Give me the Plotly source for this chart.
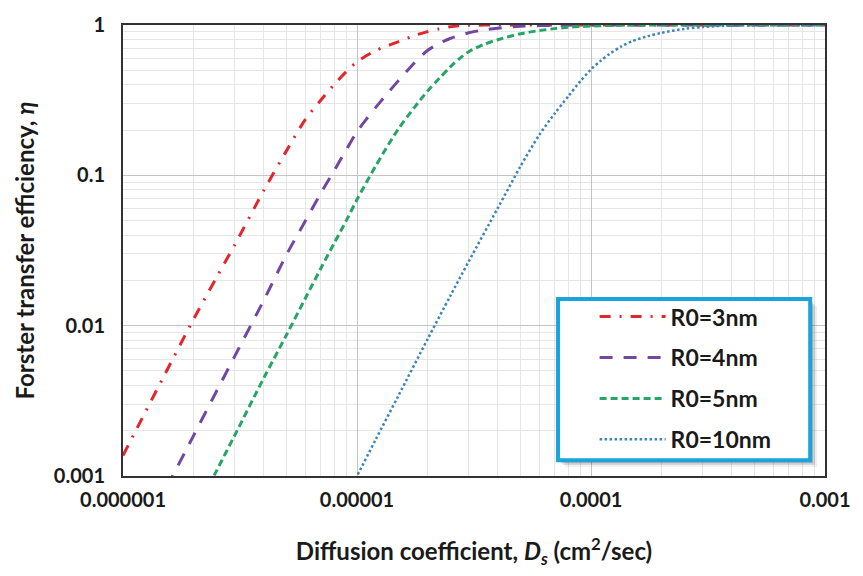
import plotly.graph_objects as go

# Diffusion coefficient D_s (cm^2/sec) and Forster transfer efficiency eta for each R0
d_r3 = [1e-6, 1.25e-6, 1.5e-6, 2e-6, 2.5e-6, 3e-6, 4e-6, 5e-6, 6e-6, 7e-6, 8e-6, 9e-6, 1e-5,
        1.2e-5, 1.5e-5, 1.8e-5, 2e-5, 2.25e-5, 2.5e-5, 2.75e-5, 3e-5, 4e-5, 5e-5, 1e-4, 1e-3]
eta_r3 = [0.00137, 0.00269, 0.00466, 0.0110, 0.0207, 0.0344, 0.0796, 0.146, 0.234, 0.316, 0.403, 0.49, 0.569,
          0.675, 0.773, 0.861, 0.902, 0.944, 0.973, 0.989, 0.995, 1.0, 1.0, 1.0, 1.0]

d_r4 = [1e-6, 1.5e-6, 2e-6, 2.5e-6, 3e-6, 4e-6, 5e-6, 6e-6, 7e-6, 8e-6, 9e-6, 1e-5, 1.1e-5, 1.2e-5,
        1.35e-5, 1.5e-5, 1.75e-5, 2e-5, 2.25e-5, 2.5e-5, 3e-5, 3.5e-5, 4e-5, 5e-5, 6e-5, 8e-5, 1e-4, 1e-3]
eta_r4 = [0.00023, 0.00078, 0.00185, 0.00362, 0.00625, 0.0148, 0.0297, 0.0494, 0.0759, 0.108, 0.148, 0.195,
          0.238, 0.282, 0.351, 0.425, 0.555, 0.676, 0.755, 0.813, 0.887, 0.929, 0.953, 0.98, 0.991, 0.998,
          1.0, 1.0]

d_r5 = [1e-6, 1.5e-6, 2e-6, 2.5e-6, 3e-6, 4e-6, 5e-6, 6e-6, 7e-6, 8e-6, 9e-6, 1e-5, 1.2e-5, 1.5e-5,
        1.75e-5, 2e-5, 2.25e-5, 2.5e-5, 2.75e-5, 3e-5, 3.5e-5, 4e-5, 5e-5, 6e-5, 7e-5, 8e-5, 9e-5, 1e-4,
        1.2e-4, 1.5e-4, 2e-4, 1e-3]
eta_r5 = [6.8e-5, 0.00023, 0.00055, 0.00107, 0.00186, 0.0045, 0.0087, 0.0151, 0.024, 0.0355, 0.050, 0.069,
          0.115, 0.203, 0.28, 0.363, 0.442, 0.525, 0.60, 0.664, 0.745, 0.798, 0.875, 0.918, 0.946, 0.966,
          0.977, 0.984, 0.993, 0.998, 1.0, 1.0]

d_r10 = [9e-6, 1e-5, 1.2e-5, 1.5e-5, 2e-5, 2.5e-5, 3e-5, 4e-5, 5e-5, 6e-5, 7e-5, 8e-5, 9e-5, 1e-4,
         1.1e-4, 1.2e-4, 1.35e-4, 1.5e-4, 1.75e-4, 2e-4, 2.5e-4, 3e-4, 4e-4, 5e-4, 7e-4, 1e-3]
eta_r10 = [0.00073, 0.001, 0.00174, 0.0034, 0.0081, 0.0157, 0.0267, 0.0607, 0.115, 0.185, 0.258, 0.336,
           0.422, 0.507, 0.578, 0.643, 0.721, 0.78, 0.843, 0.887, 0.942, 0.971, 0.991, 0.997, 1.0, 1.0]

series_names = ["R0=3nm", "R0=4nm", "R0=5nm", "R0=10nm"]

x_ticks = [1e-6, 1e-5, 1e-4, 1e-3]
x_ticktext = ["0.000001", "0.00001", "0.0001", "0.001"]
y_ticks = [0.001, 0.01, 0.1, 1]
y_ticktext = ["0.001", "0.01", "0.1", "1"]

styles = [
    dict(color="#E3262B", width=3, dash="11px,9px,2px,9px"),
    dict(color="#7446A3", width=3, dash="13px,11px"),
    dict(color="#25A566", width=3, dash="7px,4px"),
    dict(color="#3A84B8", width=2.5, dash="2.5px,2.5px"),
]

fig = go.Figure()
for i, (xs, ys) in enumerate([(d_r3, eta_r3), (d_r4, eta_r4), (d_r5, eta_r5), (d_r10, eta_r10)]):
    fig.add_trace(go.Scatter(
        x=xs, y=ys, mode="lines", name=series_names[i], legendgroup=str(i),
        line=dict(shape="spline", smoothing=0.8, **styles[i]),
    ))

# minor grid positions (2..9 within each decade)
x_minor = [m * 10.0 ** e for e in range(-6, -3) for m in range(2, 10)]
y_minor = [m * 10.0 ** e for e in range(-3, 0) for m in range(2, 10)]

ink = "#1a1a1a"
tickfont = dict(family="Lato", size=20, color=ink, weight="bold")
titlefont = dict(family="Lato", size=24, color=ink, weight="bold")

fig.update_xaxes(
    type="log", range=[-6, -3], tickvals=x_ticks, ticktext=x_ticktext, tickfont=tickfont,
    ticklabelstandoff=5,
    showgrid=True, gridcolor="#C4C4C4", gridwidth=1,
    minor=dict(tickvals=x_minor, showgrid=True, gridcolor="#E6E6E6", gridwidth=1),
    showline=True, linecolor="#333333", linewidth=2, mirror=True, ticks="", zeroline=False,
    title=dict(text="Diffusion coefficient, <i>D<sub>s</sub></i> (cm<sup>2</sup>/sec)", font=titlefont, standoff=33),
)
fig.update_yaxes(
    type="log", range=[-3, 0], tickvals=y_ticks, ticktext=y_ticktext, tickfont=tickfont,
    ticklabelstandoff=12,
    showgrid=True, gridcolor="#C4C4C4", gridwidth=1,
    minor=dict(tickvals=y_minor, showgrid=True, gridcolor="#E6E6E6", gridwidth=1),
    showline=True, linecolor="#333333", linewidth=2, mirror=True, ticks="", zeroline=False,
    title=dict(text="Forster transfer efficiency, <i>η</i>", font=titlefont, standoff=12),
)

# legend frame with a soft drop shadow
px_x = 1 / 710
px_y = 1 / 456
bx0, bx1, by0, by1 = 0.6197, 0.9789, 0.0351, 0.3925
for off, alpha in [(7, 0.06), (5, 0.10), (3, 0.16)]:
    fig.add_shape(type="rect", xref="paper", yref="paper", layer="above",
                  x0=bx0 + off * px_x, x1=bx1 + off * px_x, y0=by0 - off * px_y, y1=by1 - off * px_y,
                  line=dict(width=0), fillcolor=f"rgba(0,0,0,{alpha})")
fig.add_shape(type="rect", xref="paper", yref="paper", layer="above",
              x0=bx0, x1=bx1, y0=by0, y1=by1,
              line=dict(color="#1BA3DB", width=4), fillcolor="white")

fig.update_layout(
    width=863, height=576,
    margin=dict(l=123, r=30, t=20, b=100),
    plot_bgcolor="white", paper_bgcolor="white",
    showlegend=True,
    legend=dict(
        x=0.6718, y=0.401, xanchor="left", yanchor="top",
        bgcolor="rgba(0,0,0,0)", borderwidth=0,
        font=dict(family="Lato", size=23, color=ink, weight="bold"),
        tracegroupgap=8, itemwidth=66, traceorder="grouped",
    ),
)

fig.write_html("out.html")
